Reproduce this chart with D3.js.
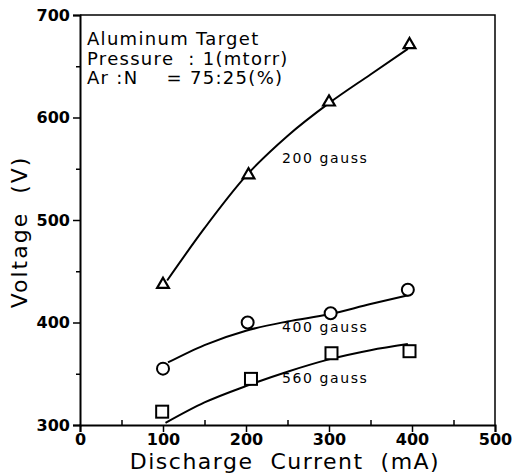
<!DOCTYPE html>
<html>
<head>
  <style>
    body { margin: 0; background: #fff; }
    text { font-family: "DejaVu Sans", sans-serif; fill: #000; }
  </style>
</head>
<body>
<svg width="513" height="475"></svg>
<script src="https://d3js.org/d3.v7.min.js"></script>
<script>

  // measured points, current (mA) / voltage (V)
  var g200 = [[100, 437], [203, 544], [300, 615], [397, 671]]
  var g400 = [[100, 355], [202, 400], [302, 409], [395, 432]]
  var g560 = [[99, 313], [206, 345], [303, 370], [397, 372]]

  // hand drawn fit curves
  var fit200 = [[105, 441], [150, 492], [200, 543], [250, 582], [300, 614], [350, 642], [395, 667]]
  var fit400 = [[106, 361], [150, 378], [200, 392], [250, 401], [300, 408], [350, 418], [398, 427]]
  var fit560 = [[103, 302], [150, 322], [200, 338], [250, 352], [300, 364], [350, 373], [395, 379]]

  var xTicks = [0, 100, 200, 300, 400, 500]
  var yTicks = [300, 400, 500, 600, 700]

  var infoLines = ["Aluminum Target", "Pressure  : 1(mtorr)", "Ar :N    = 75:25(%)"]

  var svg = d3.select("svg")

  var x = d3.scaleLinear().domain([0, 500]).range([80, 495])
  var y = d3.scaleLinear().domain([300, 700]).range([425, 15])

  // frame on top and right
  svg.append("path")
    .attr("d", "M" + x(0) + "," + y(700) + "H" + x(500) + "V" + y(300))
    .attr("fill", "none").attr("stroke", "#000").attr("stroke-width", 1.5)

  svg.append("g")
    .attr("transform", "translate(0," + y(300) + ")")
    .call(d3.axisBottom(x).tickValues(xTicks).tickSize(7).tickPadding(2).tickFormat(d3.format("d")))
  var xMinor = svg.append("g")
    .attr("transform", "translate(0," + y(300) + ")")
    .call(d3.axisTop(x).tickValues([50, 150, 250, 350, 450]).tickSize(5).tickFormat(""))

  svg.append("g")
    .attr("transform", "translate(" + x(0) + ",0)")
    .call(d3.axisLeft(y).tickValues(yTicks).tickSize(7).tickPadding(3).tickFormat(d3.format("d")))
  var yMinor = svg.append("g")
    .attr("transform", "translate(" + x(0) + ",0)")
    .call(d3.axisLeft(y).tickValues([350, 450, 550, 650]).tickSize(4).tickFormat(""))

  svg.selectAll(".domain").attr("stroke-width", 2)
  svg.selectAll(".tick line").attr("stroke-width", 1.5)
  xMinor.select(".domain").remove()
  yMinor.select(".domain").remove()
  svg.selectAll(".tick text")
    .attr("font-family", "DejaVu Sans").attr("font-size", 16).attr("font-weight", "bold")

  var line = d3.line()
    .x(function (d) { return x(d[0]) })
    .y(function (d) { return y(d[1]) })
    .curve(d3.curveMonotoneX)

  ;[fit200, fit400, fit560].forEach(function (f) {
    svg.append("path").datum(f)
      .attr("d", line)
      .attr("fill", "none").attr("stroke", "#000").attr("stroke-width", 2)
  })

  svg.selectAll(".tri").data(g200).enter().append("path")
    .attr("d", d3.symbol().type(d3.symbolTriangle).size(60))
    .attr("transform", function (d) { return "translate(" + x(d[0]) + "," + y(d[1]) + ")" })
    .attr("fill", "#fff").attr("stroke", "#000").attr("stroke-width", 2.2)

  svg.selectAll(".circ").data(g400).enter().append("circle")
    .attr("cx", function (d) { return x(d[0]) })
    .attr("cy", function (d) { return y(d[1]) })
    .attr("r", 6)
    .attr("fill", "#fff").attr("stroke", "#000").attr("stroke-width", 2)

  svg.selectAll(".sq").data(g560).enter().append("rect")
    .attr("x", function (d) { return x(d[0]) - 6 })
    .attr("y", function (d) { return y(d[1]) - 6 })
    .attr("width", 12).attr("height", 12)
    .attr("fill", "#fff").attr("stroke", "#000").attr("stroke-width", 2)

  // curve labels
  var labels = [["200 gauss", 282, 163], ["400 gauss", 282, 332], ["560 gauss", 282, 383]]
  labels.forEach(function (l) {
    svg.append("text").attr("x", l[1]).attr("y", l[2])
      .attr("font-size", 14).attr("letter-spacing", 1.6)
      .style("white-space", "pre").text(l[0])
  })

  // info text
  infoLines.forEach(function (s, i) {
    svg.append("text").attr("x", 87).attr("y", 45 + i * 19.5)
      .attr("font-size", 18).attr("letter-spacing", 1.3)
      .style("white-space", "pre").text(s)
  })

  svg.append("text")
    .attr("x", 285).attr("y", 469)
    .attr("text-anchor", "middle").attr("font-size", 22).attr("letter-spacing", 1.5)
    .style("white-space", "pre")
    .text("Discharge  Current  (mA)")

  svg.append("text")
    .attr("transform", "translate(27,232) rotate(-90)")
    .attr("text-anchor", "middle").attr("font-size", 22).attr("letter-spacing", 2)
    .style("white-space", "pre")
    .text("Voltage  (V)")

</script>
</body>
</html>
